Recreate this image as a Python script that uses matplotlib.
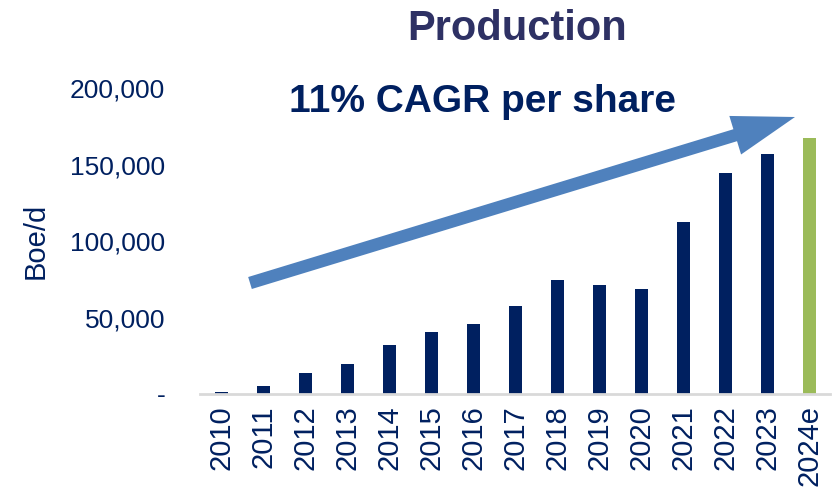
import matplotlib
matplotlib.use("Agg")
import matplotlib.pyplot as plt
from matplotlib.patches import FancyArrowPatch

years = ["2010", "2011", "2012", "2013", "2014", "2015", "2016", "2017",
         "2018", "2019", "2020", "2021", "2022", "2023", "2024e"]
production = [1500, 5200, 13700, 19600, 32000, 40500, 45800, 57500,
              74500, 71200, 68600, 112400, 144400, 156900, 167300]
ytick_vals = [0, 50000, 100000, 150000, 200000]
ytick_text = ["-", "50,000", "100,000", "150,000", "200,000"]

navy = "#002060"
green = "#9BBB59"
regular = ["Liberation Sans", "DejaVu Sans"]

fig = plt.figure(figsize=(8.37, 4.87), dpi=100)
ax = fig.add_axes([0.239, 0.191, 0.753, 0.628])

colors = [navy] * (len(years) - 1) + [green]
ax.bar(range(len(years)), production, width=0.31, color=colors)

ax.set_xlim(-0.5, len(years) - 0.5)
ax.set_ylim(0, 200000)
ax.set_yticks(ytick_vals)
ax.set_yticklabels(ytick_text, family=regular, fontsize=19, color=navy)
ax.set_xticks(range(len(years)))
ax.set_xticklabels(years, rotation=90, family=regular, fontsize=21, color=navy)
ax.tick_params(axis="y", length=0, pad=25)
ax.tick_params(axis="x", length=0, pad=8)
for s in ["top", "right", "left"]:
    ax.spines[s].set_visible(False)
ax.spines["bottom"].set_color("#D9D9D9")
ax.spines["bottom"].set_linewidth(2)

fig.text(0.042, 0.505, "Boe/d", rotation=90, ha="center", va="center",
         family=regular, fontsize=21, color=navy)

# titles (reference uses a condensed bold face, so sizes are cut to match width)
fig.text(0.618, 0.94, "Production", ha="center", va="center",
         family=regular, fontsize=30, fontweight="bold", color="#2E3164")
fig.text(0.577, 0.79, "11% CAGR per share", ha="center", va="center",
         family=regular, fontsize=28, fontweight="bold", color=navy)

arrow = FancyArrowPatch((250 / 837, 1 - 283 / 487), (795 / 837, 1 - 117 / 487),
                        transform=fig.transFigure,
                        arrowstyle="simple,head_length=45,head_width=29,tail_width=9",
                        mutation_scale=1, shrinkA=0, shrinkB=0,
                        color="#4F81BD", lw=0, zorder=5)
fig.patches.append(arrow)

fig.savefig("out.png", dpi=100)
